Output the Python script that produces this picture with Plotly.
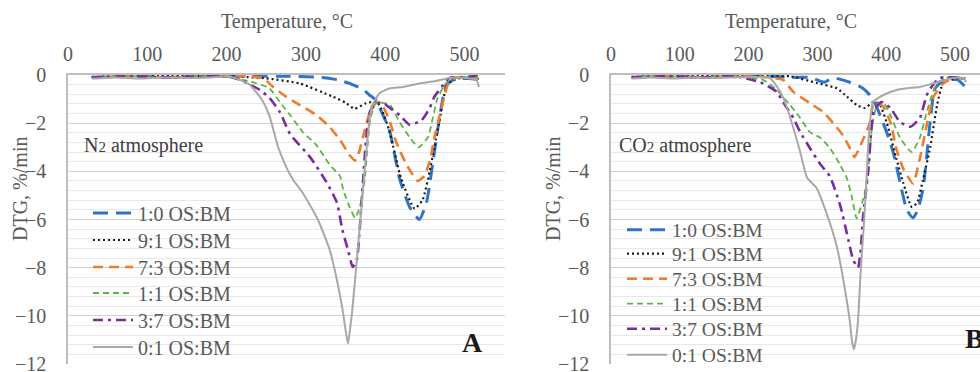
import plotly.graph_objects as go

# ---------------- DATA ----------------
LABELS = ["1:0 OS:BM", "9:1 OS:BM", "7:3 OS:BM", "1:1 OS:BM", "3:7 OS:BM", "0:1 OS:BM"]
X_TICKS = [0, 100, 200, 300, 400, 500]
Y_TICKS = [0, -2, -4, -6, -8, -10, -12]

# ---- Panel A: N2 atmosphere ----
T_N2_10 = [30, 80, 130, 180, 230, 280, 320, 340, 355, 372, 380, 387, 393, 400, 406, 418, 431, 443, 452, 460, 466, 469, 477, 490, 505, 518]
D_N2_10 = [-0.1, -0.05, -0.1, -0.05, -0.05, -0.05, -0.1, -0.2, -0.35, -0.6, -0.83, -1.0, -1.37, -1.87, -2.37, -4.3, -5.5, -6.0, -5.3, -3.65, -2.3, -1.66, -0.4, -0.15, -0.15, -0.2]

T_N2_91 = [30, 80, 130, 180, 220, 250, 292, 334, 350, 361, 376, 389, 395, 405, 420, 437, 447, 456, 462, 470, 478, 490, 505, 518]
D_N2_91 = [-0.08, -0.05, -0.05, -0.05, -0.08, -0.14, -0.35, -0.9, -1.15, -1.4, -1.17, -1.1, -1.4, -2.3, -4.3, -5.55, -5.2, -4.0, -3.0, -1.6, -0.4, -0.15, -0.12, -0.15]

T_N2_73 = [30, 80, 130, 180, 220, 246, 258, 275, 292, 313, 330, 343, 355, 362, 367, 372, 376, 383, 390, 397, 406, 414, 427, 441, 449, 456, 462, 471, 479, 490, 505, 518]
D_N2_73 = [-0.1, -0.05, -0.1, -0.05, -0.05, -0.13, -0.48, -0.9, -1.24, -1.66, -2.16, -2.7, -3.32, -3.55, -3.2, -2.57, -2.07, -1.3, -1.15, -1.3, -1.95, -2.8, -3.73, -4.4, -4.2, -3.6, -2.6, -1.37, -0.4, -0.1, -0.1, -0.15]

T_N2_11 = [30, 80, 130, 180, 208, 233, 254, 267, 280, 296, 313, 330, 343, 347, 355, 362, 368, 374, 381, 388, 395, 406, 418, 431, 442, 454, 460, 466, 477, 491, 505, 518]
D_N2_11 = [-0.1, -0.05, -0.1, -0.05, -0.12, -0.3, -0.55, -1.12, -1.66, -2.37, -2.9, -3.73, -4.2, -4.77, -5.48, -5.93, -5.48, -4.36, -1.87, -1.15, -1.15, -1.24, -1.95, -2.6, -3.0, -2.57, -1.78, -0.95, -0.33, -0.08, -0.1, -0.12]

T_N2_37 = [30, 80, 130, 180, 200, 217, 242, 254, 267, 280, 305, 326, 339, 346, 353, 359, 364, 368, 372, 376, 381, 389, 397, 407, 418, 431, 446, 456, 462, 471, 481, 500, 519]
D_N2_37 = [-0.1, -0.05, -0.1, -0.05, -0.05, -0.2, -0.62, -0.95, -1.53, -2.45, -3.4, -4.45, -5.3, -6.43, -7.26, -7.97, -7.7, -6.3, -4.4, -2.6, -1.5, -1.17, -1.15, -1.4, -1.66, -2.07, -1.87, -1.37, -0.9, -0.5, -0.12, -0.1, 0.0]

T_N2_01 = [30, 60, 90, 120, 150, 180, 200, 213, 229, 244, 254, 265, 277, 284, 296, 315, 330, 339, 346, 351, 353, 355, 358, 362, 366, 370, 375, 380, 384, 393, 406, 422, 443, 464, 481, 502, 515, 518]
D_N2_01 = [-0.15, -0.1, -0.15, -0.1, -0.12, -0.1, -0.05, -0.15, -0.4, -1.0, -1.7, -3.0, -3.95, -4.36, -4.9, -6.0, -7.26, -8.5, -9.7, -10.8, -11.15, -10.7, -9.9, -8.5, -7.0, -5.5, -3.6, -1.9, -1.25, -0.75, -0.55, -0.5, -0.35, -0.25, -0.12, -0.12, -0.2, -0.5]

# ---- Panel B: CO2 atmosphere ----
T_CO2_10 = [30, 80, 130, 180, 230, 260, 289, 310, 323, 347, 366, 376, 384, 391, 401, 410, 415, 430, 439, 446, 454, 464, 471, 485, 504, 515]
D_CO2_10 = [-0.1, -0.05, -0.1, -0.05, -0.05, -0.1, -0.1, -0.3, -0.12, -0.3, -0.55, -0.83, -1.2, -1.66, -2.4, -3.2, -3.8, -5.6, -5.93, -5.6, -4.65, -1.9, -0.55, -0.2, -0.2, -0.5]

T_CO2_91 = [30, 80, 130, 180, 230, 260, 299, 328, 343, 357, 369, 381, 390, 401, 415, 425, 437, 445, 453, 464, 474, 483, 507, 515]
D_CO2_91 = [-0.08, -0.05, -0.05, -0.05, -0.05, -0.05, -0.33, -0.55, -0.9, -1.24, -1.37, -1.12, -1.2, -2.0, -3.5, -4.5, -5.48, -5.3, -4.4, -3.0, -1.24, -0.33, -0.12, -0.2]

T_CO2_73 = [30, 80, 130, 180, 230, 250, 265, 289, 308, 323, 337, 347, 354, 366, 376, 381, 386, 395, 406, 415, 425, 439, 449, 459, 468, 481, 496, 515]
D_CO2_73 = [-0.1, -0.05, -0.1, -0.05, -0.1, -0.2, -0.7, -1.17, -1.53, -2.0, -2.5, -3.03, -3.4, -2.7, -2.0, -1.24, -1.15, -1.3, -1.95, -3.1, -3.9, -4.5, -3.45, -2.07, -0.95, -0.4, -0.12, -0.15]

T_CO2_11 = [30, 80, 130, 180, 221, 241, 260, 275, 289, 304, 318, 333, 343, 350, 357, 365, 372, 380, 388, 397, 406, 420, 437, 449, 459, 468, 475, 490, 515]
D_CO2_11 = [-0.1, -0.05, -0.1, -0.05, -0.2, -0.62, -1.24, -1.78, -2.37, -2.6, -3.03, -3.73, -4.3, -5.06, -5.95, -5.3, -4.48, -2.0, -1.15, -1.2, -1.66, -2.6, -3.2, -2.6, -1.53, -0.7, -0.3, -0.1, -0.15]

T_CO2_37 = [30, 80, 130, 180, 217, 241, 250, 265, 275, 289, 304, 318, 333, 345, 352, 359, 363, 366, 374, 382, 393, 406, 420, 435, 449, 459, 468, 478, 500, 515]
D_CO2_37 = [-0.1, -0.05, -0.1, -0.05, -0.3, -0.7, -1.12, -1.78, -2.37, -3.03, -3.7, -4.2, -5.4, -6.85, -7.68, -8.0, -7.26, -6.0, -3.94, -1.5, -1.12, -1.37, -1.95, -2.15, -1.78, -0.83, -0.4, -0.12, -0.1, -0.15]

T_CO2_01 = [30, 60, 90, 120, 150, 180, 210, 231, 246, 256, 265, 275, 285, 299, 314, 328, 340, 347, 350, 353, 356, 359, 363, 368, 371, 375, 381, 396, 415, 430, 449, 474, 497, 512, 516]
D_CO2_01 = [-0.15, -0.1, -0.15, -0.1, -0.12, -0.1, -0.08, -0.12, -0.7, -1.37, -2.2, -3.2, -4.27, -4.7, -5.8, -7.1, -8.9, -10.2, -11.0, -11.4, -11.0, -10.2, -8.1, -6.0, -4.5, -2.4, -1.12, -0.83, -0.62, -0.55, -0.5, -0.3, -0.12, -0.12, -0.3]

N2_SERIES = [(T_N2_10, D_N2_10), (T_N2_91, D_N2_91), (T_N2_73, D_N2_73),
             (T_N2_11, D_N2_11), (T_N2_37, D_N2_37), (T_N2_01, D_N2_01)]
CO2_SERIES = [(T_CO2_10, D_CO2_10), (T_CO2_91, D_CO2_91), (T_CO2_73, D_CO2_73),
              (T_CO2_11, D_CO2_11), (T_CO2_37, D_CO2_37), (T_CO2_01, D_CO2_01)]

# ---------------- STYLE ----------------
STYLES = [
    dict(color="#2E75C8", width=3.0, dash="15px,8px"),
    dict(color="#1A1A1A", width=2.2, dash="2px,3px"),
    dict(color="#F07B2C", width=2.6, dash="10px,6px"),
    dict(color="#5DB543", width=1.8, dash="6px,4px"),
    dict(color="#7A2BA0", width=2.6, dash="10px,5px,3px,5px"),
    dict(color="#A8A8A8", width=2.0, dash="solid"),
]
FONT = "Liberation Serif"
W, H = 980, 372
# legend entry placement (pixels): left x of entry and vertical centres
LEG_A_X, LEG_A_Y = 88, [213, 240, 267, 293, 320, 347]
LEG_B_X, LEG_B_Y = 622, [230, 254, 279, 304, 329, 355]

fig = go.Figure()
legends = {}
k = 0
for panel, series, lx, lys, xa, ya, fs in [
        ("A", N2_SERIES, LEG_A_X, LEG_A_Y, "x", "y", 20),
        ("B", CO2_SERIES, LEG_B_X, LEG_B_Y, "x2", "y2", 19.5)]:
    for i, (t, d) in enumerate(series):
        k += 1
        lname = "legend" if k == 1 else f"legend{k}"
        fig.add_trace(go.Scatter(x=t, y=d, mode="lines", name=LABELS[i], line=STYLES[i],
                                 line_shape="spline", line_smoothing=0.5,
                                 xaxis=xa, yaxis=ya, legend=lname))
        legends[lname] = dict(x=lx / W, y=1 - lys[i] / H, xanchor="left", yanchor="middle",
                              bgcolor="rgba(0,0,0,0)", itemwidth=40,
                              font=dict(family=FONT, size=fs, color="#595959"))

def xax(domain, rng, anchor):
    return dict(domain=domain, range=rng, side="top", anchor=anchor,
                tickvals=X_TICKS, showgrid=False, zeroline=False,
                showline=True, linecolor="#BFBFBF", linewidth=1.5,
                ticks="", ticklabelstandoff=4,
                tickfont=dict(family=FONT, size=20, color="#595959"))

def yax(domain, anchor):
    return dict(domain=domain, range=[-12, 0], anchor=anchor,
                tickvals=Y_TICKS, showgrid=True, gridcolor="#D0D0D0", gridwidth=1.3,
                zeroline=False, showline=True, linecolor="#BFBFBF", linewidth=1.5,
                ticks="", ticklabelstandoff=16, ticklabeloverflow="allow",
                minor=dict(dtick=0.4, tick0=0, showgrid=True, gridcolor="#E8E8E8", gridwidth=1),
                tickfont=dict(family=FONT, size=20, color="#595959"))

ydom = [1 - 364 / H, 1 - 75 / H]
fig.update_layout(
    width=W, height=H, margin=dict(l=0, r=0, t=0, b=0, autoexpand=False),
    paper_bgcolor="white", plot_bgcolor="white",
    font=dict(family=FONT),
    xaxis=xax([68 / W, 505 / W], [0, 551], "y"),
    yaxis=yax(ydom, "x"),
    xaxis2=xax([611 / W, 1.0], [0, 536.3], "y2"),
    yaxis2=yax(ydom, "x2"),
    showlegend=True,
    **legends,
)

for xc in [287, 791]:
    fig.add_annotation(text="Temperature, °C", x=xc / W, y=1 - 22 / H, xref="paper", yref="paper",
                       showarrow=False, xanchor="center", yanchor="middle",
                       font=dict(family=FONT, size=20, color="#595959"))
for xc in [20, 553]:
    fig.add_annotation(text="DTG, %/min", x=xc / W, y=1 - 189 / H, xref="paper", yref="paper",
                       showarrow=False, textangle=-90, xanchor="center", yanchor="middle",
                       font=dict(family=FONT, size=20, color="#595959"))
fig.add_annotation(text="N<span style='font-size:15px'>2</span> atmosphere", x=82 / W, y=1 - 145 / H,
                   xref="paper", yref="paper", showarrow=False, xanchor="left", yanchor="middle",
                   font=dict(family=FONT, size=20, color="#404040"))
fig.add_annotation(text="CO<span style='font-size:15px'>2</span> atmosphere", x=617 / W, y=1 - 145 / H,
                   xref="paper", yref="paper", showarrow=False, xanchor="left", yanchor="middle",
                   font=dict(family=FONT, size=20, color="#404040"))
fig.add_annotation(text="<b>A</b>", x=472 / W, y=1 - 342 / H, xref="paper", yref="paper",
                   showarrow=False, xanchor="center", yanchor="middle",
                   font=dict(family=FONT, size=28, color="#1A1A1A"))
fig.add_annotation(text="<b>B</b>", x=963 / W, y=1 - 338 / H, xref="paper", yref="paper",
                   showarrow=False, xanchor="left", yanchor="middle",
                   font=dict(family=FONT, size=28, color="#1A1A1A"))

fig.write_html("out.html")
